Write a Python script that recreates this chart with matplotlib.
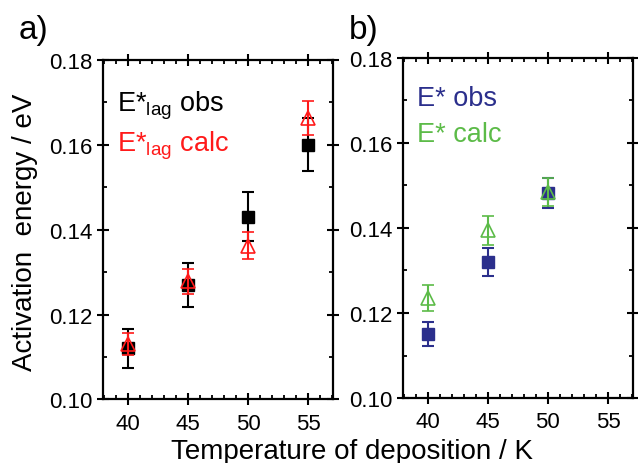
import matplotlib
matplotlib.use("Agg")
import matplotlib.pyplot as plt
from matplotlib.ticker import MultipleLocator

plt.rcParams['font.family'] = ['Liberation Sans', 'DejaVu Sans']
plt.rcParams['mathtext.fontset'] = 'custom'
plt.rcParams['mathtext.rm'] = 'Liberation Sans'

# panel a) E*lag
temp_a = [40, 45, 50, 55]
lag_obs = [0.112, 0.127, 0.143, 0.160]
lag_obs_err = [0.0045, 0.0052, 0.0058, 0.0063]
lag_calc = [0.113, 0.1278, 0.1362, 0.1662]
lag_calc_err = [0.0026, 0.0030, 0.0032, 0.0040]

# panel b) E*
temp_b = [40, 45, 50]
e_obs = [0.115, 0.132, 0.1482]
e_obs_err = [0.0028, 0.0033, 0.0035]
e_calc = [0.1235, 0.1395, 0.1484]
e_calc_err = [0.0030, 0.0034, 0.0033]

xticks = [40, 45, 50, 55]
yticks = [0.10, 0.12, 0.14, 0.16, 0.18]

navy = '#2b2f8c'
green = '#5cbb48'
red = '#ff1a1a'

fig = plt.figure(figsize=(6.38, 4.64), dpi=100)
ax1 = fig.add_axes([0.1614, 0.137, 0.3606, 0.732])
ax2 = fig.add_axes([0.6312, 0.140, 0.361, 0.733])


def style(ax):
    ax.set_xlim(37.92, 57.08)
    ax.set_ylim(0.10, 0.18)
    ax.set_xticks(xticks)
    ax.set_yticks(yticks)
    ax.set_yticklabels(['%.2f' % v for v in yticks])
    ax.xaxis.set_minor_locator(MultipleLocator(1))
    ax.yaxis.set_minor_locator(MultipleLocator(0.01))
    for s in ax.spines.values():
        s.set_linewidth(1.6)
    ax.tick_params(which='major', direction='inout', length=9, width=1.5,
                   top=True, right=True, labelsize=16, pad=3)
    ax.tick_params(which='minor', direction='in', length=3, width=1.3,
                   top=True, right=True)
    ax.tick_params(axis='x', which='major', pad=5)


def draw(ax, t, obs, obs_err, calc, calc_err, c_obs, c_calc):
    ax.errorbar(t, obs, yerr=obs_err, fmt='s', color=c_obs, ms=8,
                mfc=c_obs, mec=c_obs, elinewidth=1.5, capsize=4, capthick=1.5,
                zorder=3)
    ax.errorbar(t, calc, yerr=calc_err, fmt='^', color=c_calc, ms=10,
                mfc='none', mec=c_calc, mew=1.2, elinewidth=1.5, capsize=4,
                capthick=1.5, zorder=4)


draw(ax1, temp_a, lag_obs, lag_obs_err, lag_calc, lag_calc_err, 'black', red)
draw(ax2, temp_b, e_obs, e_obs_err, e_calc, e_calc_err, navy, green)
style(ax1)
style(ax2)

ax1.text(0.063, 0.85, r'E*$_{\rm lag}$ obs', transform=ax1.transAxes,
         fontsize=19.5, color='black', va='baseline')
ax1.text(0.063, 0.732, r'E*$_{\rm lag}$ calc', transform=ax1.transAxes,
         fontsize=19.5, color=red, va='baseline')
ax2.text(0.064, 0.862, 'E* obs', transform=ax2.transAxes,
         fontsize=19.5, color=navy, va='baseline')
ax2.text(0.064, 0.756, 'E* calc', transform=ax2.transAxes,
         fontsize=19.5, color=green, va='baseline')

fig.text(0.029, 0.915, 'a)', fontsize=24, va='baseline')
fig.text(0.546, 0.915, 'b)', fontsize=24, va='baseline')

fig.text(0.039, 0.5, 'Activation  energy / eV', rotation=90, fontsize=20,
         ha='center', va='center')
fig.text(0.552, 0.01, 'Temperature of deposition / K', fontsize=20,
         ha='center', va='baseline')

fig.savefig('out.png', dpi=100)
